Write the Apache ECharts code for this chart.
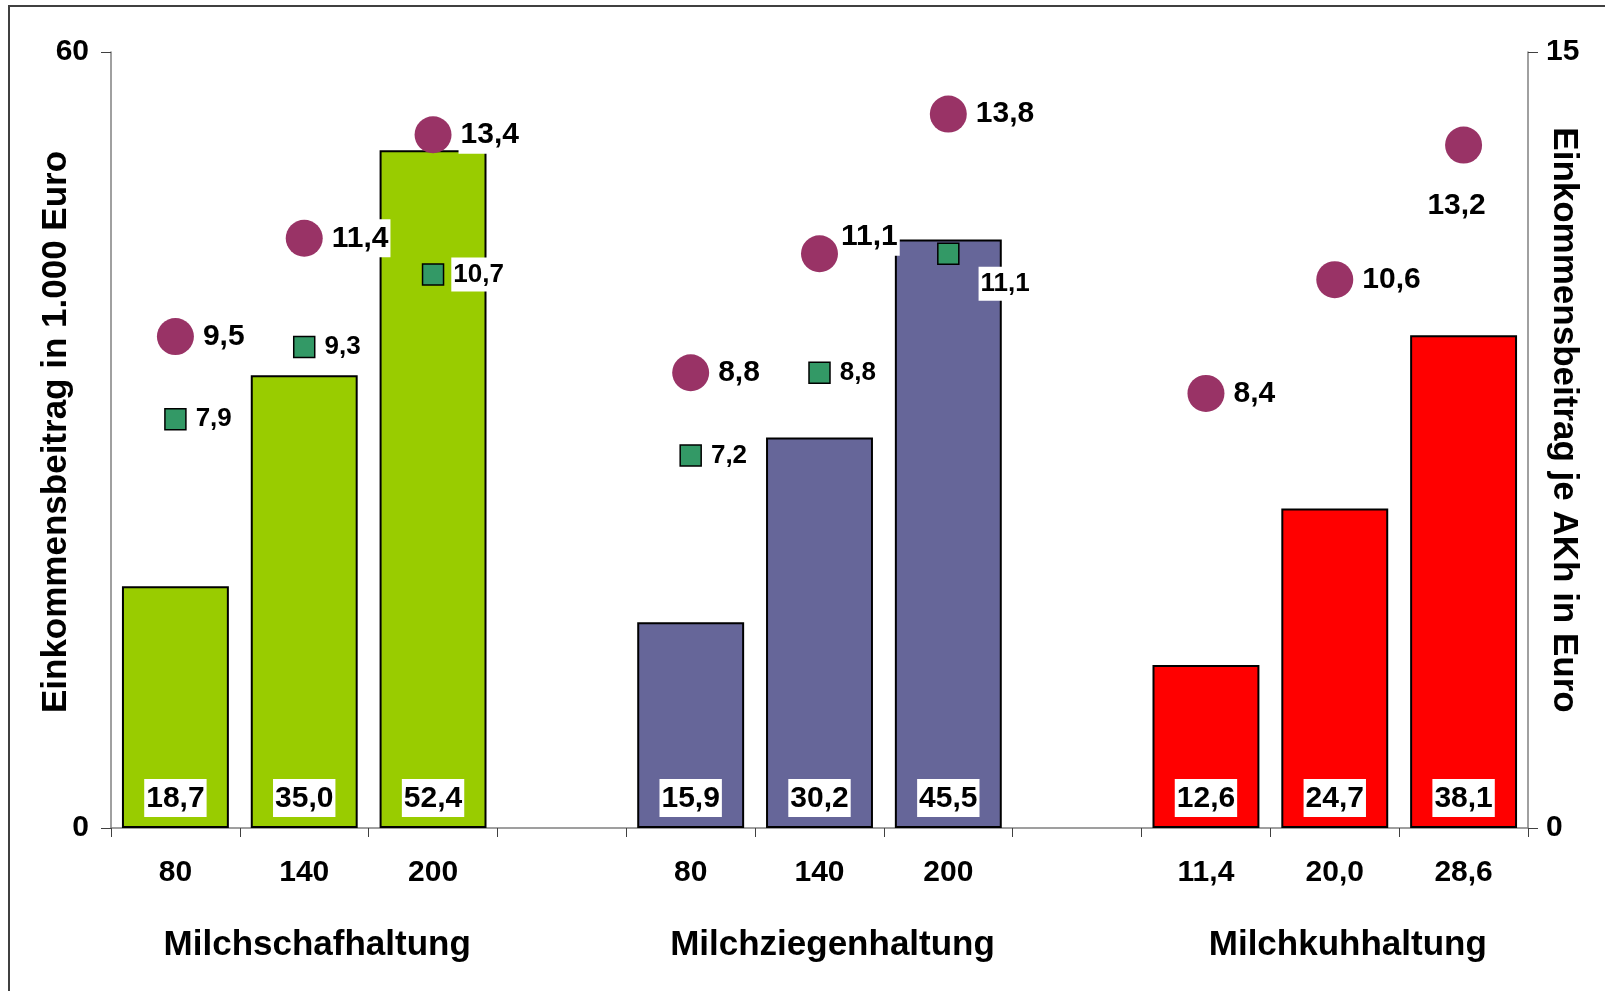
<!DOCTYPE html>
<html>
<head>
<meta charset="utf-8">
<script src="https://cdn.jsdelivr.net/npm/echarts@6/dist/echarts.min.js"></script>
<style>
  html, body { margin: 0; padding: 0; background: #fff; }
  #chart { width: 1605px; height: 991px; }
</style>
</head>
<body>
<div id="chart"></div>
<script>
// categories (11 slots, two empty spacer slots between the groups)
const categories = ['80', '140', '200', '', '80', '140', '200', '', '11,4', '20,0', '28,6']
const groupLabels = ['', 'Milchschafhaltung', '', '', '', 'Milchziegenhaltung', '', '', '', 'Milchkuhhaltung', '']
// Einkommensbeitrag in 1.000 Euro
const incomeValues = [18.7, 35.0, 52.4, '-', 15.9, 30.2, 45.5, '-', 12.6, 24.7, 38.1]
// Einkommensbeitrag je AKh (circles / squares)
const hourCircle = [9.5, 11.4, 13.4, '-', 8.8, 11.1, 13.8, '-', 8.4, 10.6, 13.2]
const hourSquare = [7.9, 9.3, 10.7, '-', 7.2, 8.8, 11.1, '-', '-', '-', '-']
const leftTicks = [0, 60]
const rightTicks = [0, 15]

const barColors = ['#99cc00', '#99cc00', '#99cc00', '', '#666699', '#666699', '#666699', '', '#ff0000', '#ff0000', '#ff0000']
const FONT = "'Liberation Sans', Arial, sans-serif"
const fmt = v => Number(v).toFixed(1).replace('.', ',')

const labelBox = {
  show: true,
  color: '#000',
  fontFamily: FONT,
  fontWeight: 'bold',
  backgroundColor: '#fff',
  padding: [5, 2, 3, 2]
}

// a few labels sit elsewhere than right of the marker
const circleLabelFix = {
  5: { position: 'right', offset: [-6, -17] },
  10: { position: 'bottom', distance: 22, offset: [-7, 0] }
}
const squareLabelFix = {
  6: { position: 'right', offset: [12, 30] }
}

const circleData = hourCircle.map((v, i) => circleLabelFix[i] ? { value: v, label: circleLabelFix[i] } : v)
const squareData = hourSquare.map((v, i) => squareLabelFix[i] ? { value: v, label: squareLabelFix[i] } : v)

const chart = echarts.init(document.getElementById('chart'), null, { renderer: 'canvas' })

const option = {
  animation: false,
  backgroundColor: '#fff',
  textStyle: { fontFamily: FONT },
  graphic: [{
    type: 'rect',
    shape: { x: 9, y: 6, width: 1700, height: 1100 },
    style: { fill: 'none', stroke: '#404040', lineWidth: 2 },
    silent: true
  }],
  grid: { left: 111, right: 77, top: 52, bottom: 163, containLabel: false, outerBoundsMode: 'none' },
  xAxis: [
    {
      type: 'category',
      data: categories,
      axisLine: { lineStyle: { color: '#808080', width: 1.5 } },
      axisTick: { show: true, length: 9, lineStyle: { color: '#404040' } },
      axisLabel: {
        interval: 0, margin: 30, color: '#000', fontSize: 30, fontWeight: 'bold', fontFamily: FONT
      }
    },
    {
      type: 'category',
      position: 'bottom',
      data: groupLabels,
      axisLine: { show: false },
      axisTick: { show: false },
      axisLabel: {
        interval: 0, margin: 100, color: '#000', fontSize: 35, fontWeight: 'bold', fontFamily: FONT,
        padding: [0, 0, 0, 26]
      }
    }
  ],
  yAxis: [
    {
      type: 'value',
      min: leftTicks[0], max: leftTicks[1], interval: 60,
      splitLine: { show: false },
      axisLine: { show: true, lineStyle: { color: '#808080', width: 1.5 } },
      axisTick: { show: true, length: 10, lineStyle: { color: '#404040' } },
      axisLabel: { margin: 22, color: '#000', fontSize: 30, fontWeight: 'bold', fontFamily: FONT },
      name: 'Einkommensbeitrag in 1.000 Euro',
      nameLocation: 'middle',
      nameGap: 37,
      nameMoveOverlap: false,
      nameTextStyle: { color: '#000', fontSize: 35, fontWeight: 'bold', fontFamily: FONT, padding: [0, 0, 0, 16] }
    },
    {
      type: 'value',
      position: 'right',
      min: rightTicks[0], max: rightTicks[1], interval: 15,
      splitLine: { show: false },
      axisLine: { show: true, lineStyle: { color: '#808080', width: 1.5 } },
      axisTick: { show: true, length: 10, lineStyle: { color: '#404040' } },
      axisLabel: { margin: 18, color: '#000', fontSize: 30, fontWeight: 'bold', fontFamily: FONT },
      name: 'Einkommensbeitrag je AKh in Euro',
      nameLocation: 'middle',
      nameRotate: -90,
      nameGap: 18,
      nameMoveOverlap: false,
      nameTextStyle: { color: '#000', fontSize: 35, fontWeight: 'bold', fontFamily: FONT, padding: [0, 40, 0, 0] }
    }
  ],
  series: [
    {
      type: 'bar',
      data: incomeValues,
      barWidth: '83%',
      itemStyle: {
        color: p => barColors[p.dataIndex],
        borderColor: '#000',
        borderWidth: 2
      },
      label: Object.assign({}, labelBox, {
        position: 'insideBottom',
        distance: 11,
        fontSize: 30,
        formatter: p => fmt(p.value)
      })
    },
    {
      type: 'scatter',
      yAxisIndex: 1,
      data: squareData,
      symbol: 'rect',
      symbolSize: 21,
      itemStyle: { color: '#339966', borderColor: '#000', borderWidth: 1.5, opacity: 1 },
      label: Object.assign({}, labelBox, {
        position: 'right',
        distance: 7,
        fontSize: 26,
        formatter: p => fmt(p.value)
      })
    },
    {
      type: 'scatter',
      yAxisIndex: 1,
      data: circleData,
      symbol: 'circle',
      symbolSize: 37,
      itemStyle: { color: '#993366', opacity: 1 },
      label: Object.assign({}, labelBox, {
        position: 'right',
        distance: 7,
        fontSize: 30,
        formatter: p => fmt(p.value)
      })
    }
  ]
}

chart.setOption(option)
window.addEventListener('resize', chart.resize)
</script>
</body>
</html>
